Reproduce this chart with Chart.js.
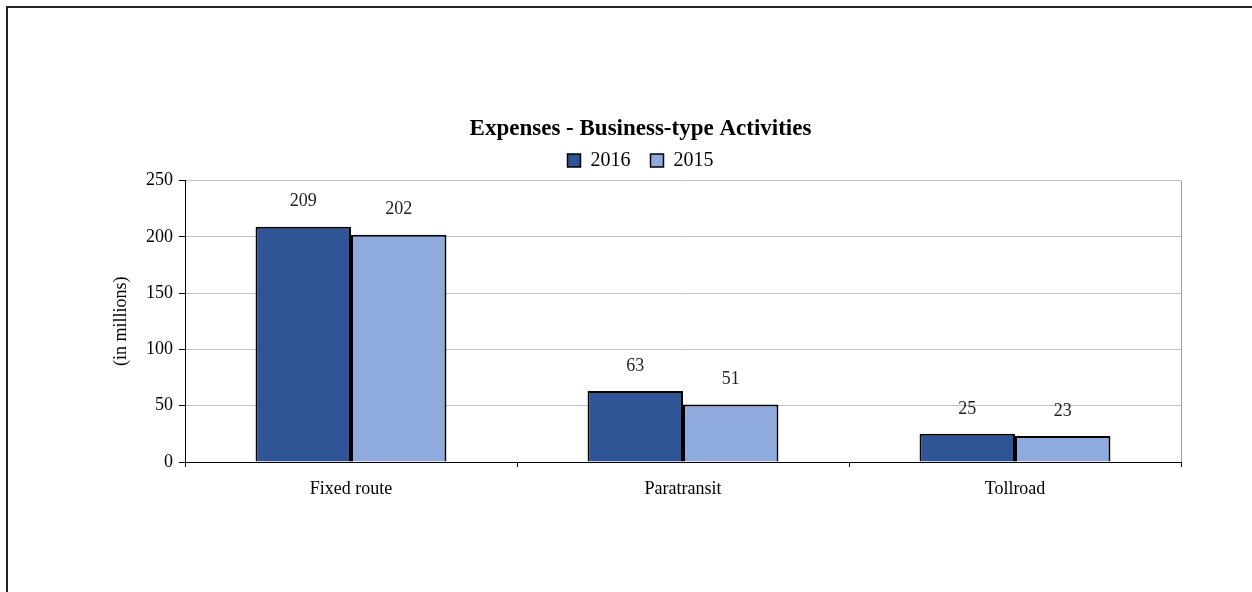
<!DOCTYPE html>
<html>
<head>
<meta charset="utf-8">
<script src="https://cdn.jsdelivr.net/npm/chart.js@4"></script>
<style>
  html, body { margin: 0; padding: 0; background: #fff; }
  #wrap { width: 1252px; height: 592px; }
</style>
</head>
<body>
<div id="wrap"><canvas id="expenses-chart" width="1252" height="592"></canvas></div>
<script>
// chart values
const categories = ['Fixed route', 'Paratransit', 'Tollroad'];
const seriesNames = ['2016', '2015'];
const values2016 = [209, 63, 25];
const values2015 = [202, 51, 23];
const yTicks = [0, 50, 100, 150, 200, 250];

Chart.defaults.font.family = '"Liberation Serif", "DejaVu Serif", serif';
Chart.defaults.color = '#000';

// outer frame, right border of the plot and value labels
const extras = {
    id: 'extras',
    afterDatasetsDraw(chart) {
        const ctx = chart.ctx;
        const area = chart.chartArea;
        ctx.save();
        ctx.strokeStyle = '#a0a0a0';
        ctx.lineWidth = 1;
        ctx.beginPath();
        ctx.moveTo(Math.round(area.right) + 0.5, area.top);
        ctx.lineTo(Math.round(area.right) + 0.5, area.bottom);
        ctx.stroke();

        ctx.fillStyle = '#222';
        ctx.font = '18px "Liberation Serif", "DejaVu Serif", serif';
        ctx.textAlign = 'center';
        ctx.textBaseline = 'middle';
        chart.data.datasets.forEach((ds, i) => {
            chart.getDatasetMeta(i).data.forEach((bar, j) => {
                ctx.fillText(ds.data[j], bar.x, bar.y - 25);
            });
        });

        ctx.strokeStyle = '#222';
        ctx.lineWidth = 2;
        ctx.strokeRect(7, 7, 1400, 1400);
        ctx.restore();
    }
};

const chartData = {
    labels: categories,
    datasets: [
        {
            label: seriesNames[0],
            data: values2016,
            backgroundColor: '#2F5597',
            borderColor: '#000',
            borderWidth: 2,
            borderSkipped: 'bottom'
        },
        {
            label: seriesNames[1],
            data: values2015,
            backgroundColor: '#8FAADC',
            borderColor: '#000',
            borderWidth: 2,
            borderSkipped: 'bottom'
        }
    ]
};

const chartConfig = {
    type: 'bar',
    data: chartData,
    plugins: [extras],
    options: {
        responsive: false,
        animation: false,
        layout: { padding: { left: 100, right: 71, top: 0, bottom: 80 } },
        datasets: { bar: { categoryPercentage: 0.575, barPercentage: 1 } },
        plugins: {
            title: {
                display: true,
                text: 'Expenses - Business-type Activities',
                font: { size: 23, weight: 'bold' },
                color: '#000',
                padding: { top: 115, bottom: 3 }
            },
            legend: {
                display: true,
                labels: {
                    boxWidth: 13,
                    boxHeight: 13,
                    font: { size: 20 },
                    padding: 5,
                    color: '#000',
                    generateLabels(chart) {
                        return chart.data.datasets.map((ds, i) => ({
                            // extra spaces widen the gap between the two items
                            text: i === 0 ? ds.label + '   ' : ds.label,
                            fillStyle: ds.backgroundColor,
                            strokeStyle: '#000',
                            lineWidth: 1.5,
                            datasetIndex: i
                        }));
                    }
                }
            },
            tooltip: { enabled: false }
        },
        scales: {
            x: {
                grid: {
                    display: true,
                    drawOnChartArea: false,
                    drawTicks: true,
                    tickLength: 5,
                    tickColor: '#000',
                    offset: true
                },
                border: { display: true, color: '#000', width: 1 },
                ticks: { font: { size: 18 }, color: '#000', padding: 11 },
                afterFit(scale) { scale.height = 50; }
            },
            y: {
                min: 0,
                max: 250,
                afterBuildTicks(scale) { scale.ticks = yTicks.map(v => ({ value: v })); },
                grid: {
                    color: '#c0c0c0',
                    tickColor: '#000',
                    tickLength: 6,
                    drawTicks: true
                },
                border: { display: true, color: '#000', width: 1 },
                ticks: { font: { size: 18 }, color: '#000', padding: 6 },
                title: {
                    display: true,
                    text: '(in millions)',
                    font: { size: 18 },
                    color: '#000',
                    padding: { top: 10, bottom: 0 }
                },
                afterFit(scale) { scale.width = 85; }
            }
        }
    }
};

const makeChart = new Chart(document.getElementById('expenses-chart').getContext('2d'), chartConfig);
</script>
</body>
</html>
